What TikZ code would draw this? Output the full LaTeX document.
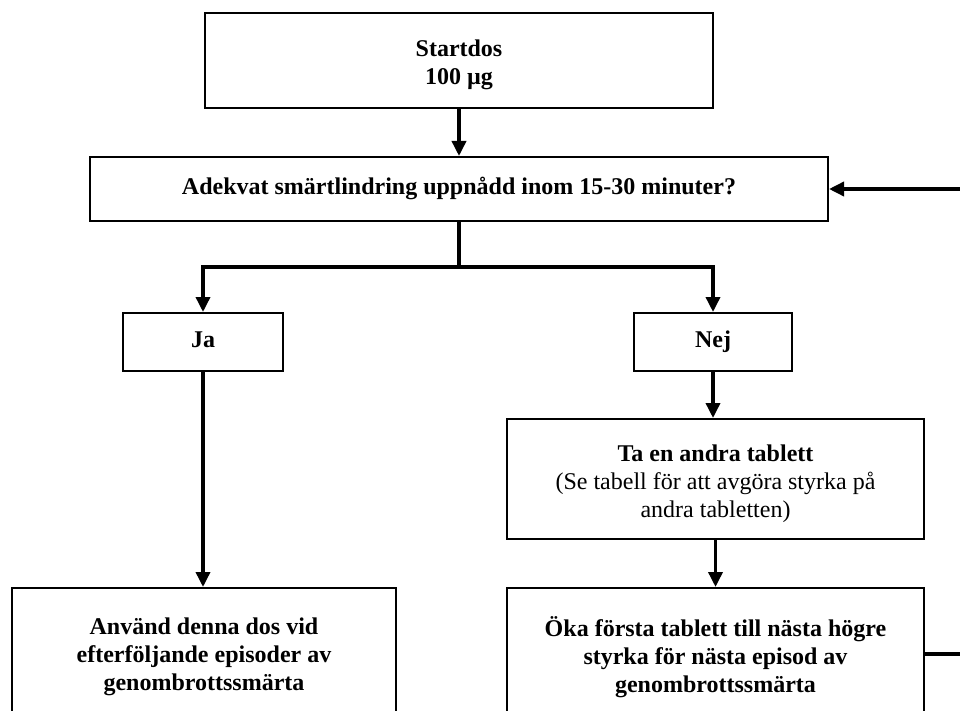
\documentclass[tikz,border=0pt]{standalone}
\usepackage{fontspec}
\setmainfont{Liberation Serif}
\usetikzlibrary{arrows.meta}
\begin{document}
\begin{tikzpicture}[x=1pt,y=-1pt,
  box/.style={draw=black,line width=2pt,rectangle,inner sep=0pt,align=center,
    font=\fontsize{24}{28}\selectfont\bfseries},
  txt/.style={inner sep=0pt,align=center,font=\fontsize{24}{28}\selectfont\bfseries},
  one/.style={text height=16pt,text depth=5pt},
  conn/.style={line width=3.5pt},
  arr/.style={conn,-{Triangle[length=15pt,width=14pt]}}]
\useasboundingbox (0,0) rectangle (960,711);
\clip (0,0) rectangle (960,711);
\fill[white] (0,0) rectangle (960,711);
\node[box,minimum width=508pt,minimum height=95pt] (start) at (459,60.5) {};
\node[txt] (starttext) at (459,65) {Startdos\\100 µg};
\node[box,one,minimum width=738pt,minimum height=64pt] (q) at (459,189) {Adekvat smärtlindring uppnådd inom 15-30 minuter?};
\node[box,one,minimum width=160pt,minimum height=58pt] (ja) at (203,342) {Ja};
\node[box,one,minimum width=158pt,minimum height=58pt] (nej) at (713,342) {Nej};
\node[box,minimum width=417pt,minimum height=120pt] (ta) at (715.5,479) {};
\node[txt] (tatext) at (715.5,484) {Ta en andra tablett\\\mdseries (Se tabell för att avgöra styrka på\\\mdseries andra tabletten)};
\node[box,minimum width=417pt,minimum height=138pt] (oka) at (715.5,657) {Öka första tablett till nästa högre\\styrka för nästa episod av\\genombrottssmärta};
\node[box,minimum width=384pt,minimum height=138pt] (use) at (204,657) {Använd denna dos vid\\efterföljande episoder av\\genombrottssmärta};
\coordinate (split) at (459,267);
\coordinate (far) at (1000,654);
\draw[arr] (start.south) -- (q.north);
\draw[conn] (q.south) -- (split);
\draw[arr] (split) -| (ja.north);
\draw[arr] (split) -| (nej.north);
\draw[arr] (ja.south) -- (ja.south |- use.north);
\draw[arr] (nej.south) -- (nej.south |- ta.north);
\draw[arr] (ta.south) -- (oka.north);
\draw[arr] (oka.east |- far) -- (far) |- (q.east);
\end{tikzpicture}
\end{document}
